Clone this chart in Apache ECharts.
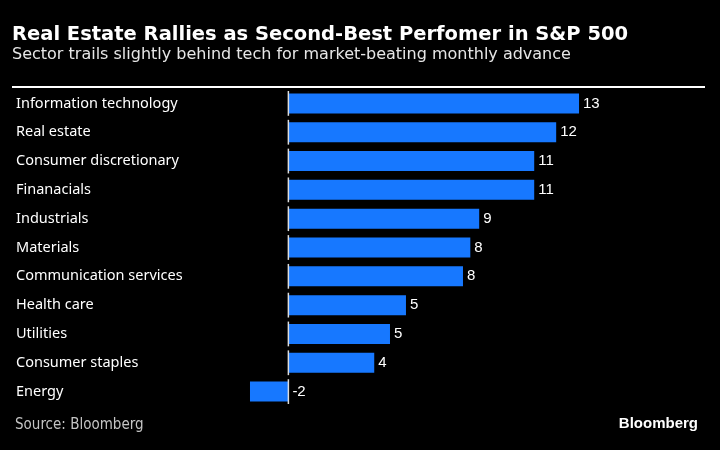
<!DOCTYPE html>
<html>
<head>
<meta charset="utf-8">
<script src="https://cdn.jsdelivr.net/npm/echarts@6/dist/echarts.min.js"></script>
<style>html,body{margin:0;padding:0;background:#000;}#c{width:720px;height:450px;}</style>
</head>
<body>
<div id="c"></div>
<script>
const categories = ["Information technology","Real estate","Consumer discretionary","Finanacials","Industrials","Materials","Communication services","Health care","Utilities","Consumer staples","Energy"];
const values = [13.1, 12.07, 11.08, 11.08, 8.6, 8.2, 7.87, 5.3, 4.58, 3.87, -1.73];
const labels = ["13","12","11","11","9","8","8","5","5","4","-2"];
const titleText = "Real Estate Rallies as Second-Best Perfomer in S&P 500";
const subtitleText = "Sector trails slightly behind tech for market-beating monthly advance";
const sourceText = "Source: Bloomberg";

const chart = echarts.init(document.getElementById('c'), null, {renderer:'canvas'});
chart.setOption({
  backgroundColor: '#000',
  animation: false,
  graphic: [
    {type:'text', left:12, top:25, style:{text:titleText, fill:'#fff', font:'bold 19.5px "DejaVu Sans"'}},
    {type:'text', left:12, top:47, style:{text:subtitleText, fill:'#e6e6e6', font:'16px "DejaVu Sans"'}},
    {type:'line', shape:{x1:12, y1:87, x2:705, y2:87}, style:{stroke:'#fff', lineWidth:2}},
    {type:'text', left:15, top:418, style:{text:sourceText, fill:'#c4c4c4', font:'15px "DejaVu Sans Condensed", "DejaVu Sans"'}},
    {type:'text', right:22, top:416, style:{text:'Bloomberg', fill:'#fff', font:'bold 15px "Liberation Sans", Arial'}}
  ],
  grid: {left:244, right:121, top:89, bottom:44},
  xAxis: {type:'value', min:-2, max:14, show:false},
  yAxis: {
    type:'category', data:categories, inverse:true,
    axisLine:{show:false, onZero:false}, axisTick:{show:false}, splitLine:{show:false},
    axisLabel:{color:'#fff', align:'left', margin:228, fontSize:14.5, fontFamily:'"Noto Sans", "Liberation Sans", Arial', verticalAlign:'middle', padding:[0,0,6,0]}
  },
  series: [
    {
      type:'bar', data:values, barWidth:20,
      itemStyle:{color:'#1778ff'},
      label:{show:true, position:'right', distance:4, color:'#fff', fontSize:15, fontFamily:'"Liberation Sans", Arial',
        formatter:(p)=>labels[p.dataIndex]}
    },
    {
      type:'custom', data:values.map((v,i)=>[0,i]), z:5,
      renderItem:(params, api)=>{
        const p = api.coord([0, api.value(1)]);
        const h = api.size([0,1])[1];
        return {type:'line', shape:{x1:p[0], y1:p[1]-h*0.43, x2:p[0], y2:p[1]+h*0.43}, style:{stroke:'#ddd', lineWidth:1.5}};
      }
    }
  ]
});
</script>
</body>
</html>
